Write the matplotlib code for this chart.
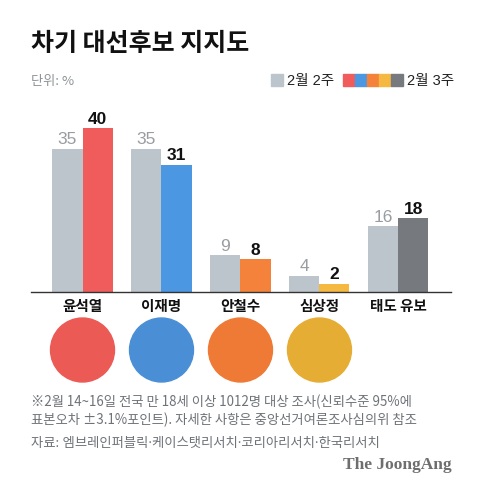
import matplotlib
matplotlib.use("Agg")
import matplotlib.pyplot as plt
from matplotlib.patches import Rectangle, Circle
import numpy as np

plt.rcParams['font.family'] = ['Noto Sans CJK KR', 'DejaVu Sans']

candidates = ['윤석열', '이재명', '안철수', '심상정', '태도 유보']
week2 = [35, 35, 9, 4, 16]
week3 = [40, 31, 8, 2, 18]
week3_colors = ['#F05C5C', '#4B97E1', '#F5823A', '#F5B942', '#76797D']
photo_colors = ['#EC5A55', '#4A8FD6', '#EE7A35', '#E6AD35']
gray = '#BCC5CB'

W, H = 480, 490
fig = plt.figure(figsize=(W / 100, H / 100), dpi=100)

def fx(px):
    return px / W

def fy(py):
    return 1 - py / H

num_font = ['Liberation Sans', 'DejaVu Sans']

# main bar axes
ax = fig.add_axes([fx(31), fy(292), fx(420), 182 / H])
x = np.arange(len(candidates))
bw = 0.38
ax.bar(x - bw / 2, week2, bw, color=gray)
ax.bar(x + bw / 2, week3, bw, color=week3_colors)
for i in range(len(candidates)):
    ax.text(x[i] - bw / 2, week2[i] + 0.35, str(week2[i]), ha='center', va='bottom',
            fontsize=12.5, color='#999DA1', family=num_font)
    ax.text(x[i] + bw / 2, week3[i] + 0.35, str(week3[i]), ha='center', va='bottom',
            fontsize=12.5, color='#111111', fontweight='bold', family=num_font)
ax.set_xlim(-0.652, 4.665)
ax.set_ylim(0, 44.4)
for s in ['top', 'right', 'left']:
    ax.spines[s].set_visible(False)
ax.spines['bottom'].set_color('#333333')
ax.spines['bottom'].set_linewidth(1.0)
ax.set_yticks([])
ax.set_xticks(x)
ax.set_xticklabels(candidates, fontsize=10.5, fontweight='bold', color='#111111')
ax.tick_params(axis='x', length=0, pad=4)

# circles in place of the photos
ax2 = fig.add_axes([fx(31), fy(385), fx(420), 70 / H])
ax2.set_xlim(-0.652, 4.665)
ax2.set_ylim(-0.443, 0.443)
ax2.axis('off')
for i, c in enumerate(photo_colors):
    ax2.add_patch(Circle((x[i], 0), 0.405, color=c))

# title and unit
fig.text(fx(31), fy(44), '차기 대선후보 지지도', fontsize=18, fontweight='black',
         color='#111111', va='center', ha='left')
fig.text(fx(31), fy(81), '단위: %', fontsize=9.5, color='#8E9296', va='center', ha='left')

# legend
leg_font = ['Liberation Sans', 'Noto Sans CJK KR']
fig.add_artist(Rectangle((fx(271), fy(86)), fx(12), 12 / H, color=gray, transform=fig.transFigure))
fig.text(fx(287), fy(80.5), '2월 2주', fontsize=10.5, color='#222222', va='center', ha='left',
         family=leg_font)
for i, c in enumerate(week3_colors):
    fig.add_artist(Rectangle((fx(343 + 12 * i), fy(86)), fx(12), 12 / H, color=c,
                             transform=fig.transFigure))
fig.text(fx(407), fy(80.5), '2월 3주', fontsize=10.5, color='#222222', va='center', ha='left',
         family=leg_font)

# notes
note1 = '※2월 14~16일 전국 만 18세 이상 1012명 대상 조사(신뢰수준 95%에'
note2 = '표본오차 ±3.1%포인트). 자세한 사항은 중앙선거여론조사심의위 참조'
source = '자료: 엠브레인퍼블릭·케이스탯리서치·코리아리서치·한국리서치'
fig.text(fx(31), fy(402), note1, fontsize=9.6, color='#6E7378', va='center', ha='left')
fig.text(fx(31), fy(420), note2, fontsize=9.6, color='#6E7378', va='center', ha='left')
fig.text(fx(31), fy(443), source, fontsize=9.6, color='#6E7378', va='center', ha='left',
         family=['Noto Sans', 'Noto Sans CJK KR'])
fig.text(fx(452), fy(465), 'The JoongAng', fontsize=12.5, color='#6E6E6E', va='center',
         ha='right', family='Liberation Serif', fontweight='bold')

fig.savefig('out.png', dpi=100)
